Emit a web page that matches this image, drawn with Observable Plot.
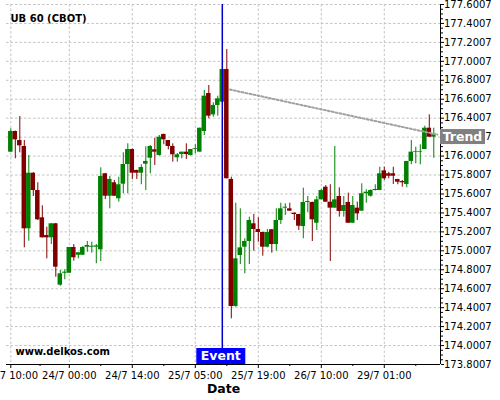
<!DOCTYPE html>
<html>
<head>
<meta charset="utf-8">
<script src="https://cdn.jsdelivr.net/npm/d3@7"></script>
<script src="https://cdn.jsdelivr.net/npm/@observablehq/plot@0.6"></script>
<style>
  html, body { margin: 0; padding: 0; background: white; }
</style>
</head>
<body>
<div id="chart"></div>
<script>
const title = "UB 60 (CBOT)";
const watermark = "www.delkos.com";
const xTitle = "Date";

const open = [
176.042, 176.260, 176.165, 176.102, 175.233, 175.820, 175.637, 175.349, 175.162, 175.138,
175.286, 174.638, 174.764, 174.764, 175.036, 174.954, 174.954, 175.039, 175.039, 175.039,
175.011, 175.814, 175.577, 175.719, 175.550, 175.704, 175.912, 176.070, 175.849, 175.820,
175.915, 175.978, 176.067, 176.007, 176.229, 176.165, 176.102, 175.983, 176.017, 176.042,
176.007, 176.070, 176.042, 176.260, 176.661, 176.436, 176.535, 176.570, 176.915, 175.754,
174.413, 174.951, 175.039, 175.099, 175.286, 175.226, 175.194, 175.039, 175.223, 175.067,
175.321, 175.451, 175.444, 175.398, 175.384, 175.257, 175.511, 175.511, 175.292, 175.539,
175.672, 175.514, 175.451, 175.574, 175.416, 175.511, 175.292, 175.451, 175.419, 175.603,
175.577, 175.637, 175.637, 175.845, 175.814, 175.814, 175.754, 175.732, 175.701, 175.944,
176.042, 176.042, 176.070, 176.295, 176.200
];
const high = [
176.289, 176.265, 176.418, 176.165, 176.007, 175.825, 175.719, 175.476, 175.250, 175.286,
175.290, 174.793, 174.800, 175.036, 175.067, 174.980, 175.046, 175.099, 175.092, 175.067,
175.877, 175.818, 175.785, 175.743, 175.778, 176.035, 176.130, 176.075, 175.852, 175.909,
176.099, 176.112, 176.189, 176.218, 176.232, 176.165, 176.130, 176.028, 176.042, 176.130,
176.070, 176.120, 176.295, 176.693, 176.746, 176.563, 176.633, 176.915, 177.126, 175.778,
175.503, 175.444, 175.128, 175.356, 175.384, 175.349, 175.198, 175.226, 175.226, 175.444,
175.503, 175.497, 175.503, 175.400, 175.384, 175.662, 175.574, 175.515, 175.574, 175.651,
175.690, 175.698, 176.102, 175.666, 175.574, 175.609, 175.574, 175.514, 175.708, 175.645,
175.645, 175.698, 175.883, 175.883, 175.830, 175.883, 175.754, 175.743, 175.944, 176.165,
176.094, 176.120, 176.316, 176.436, 176.295
];
const low = [
176.038, 175.972, 176.035, 175.032, 175.102, 175.574, 175.321, 175.136, 174.916, 175.067,
174.722, 174.627, 174.695, 174.764, 174.891, 174.916, 174.954, 174.986, 174.976, 174.864,
174.888, 175.542, 175.444, 175.574, 175.514, 175.603, 175.603, 175.754, 175.754, 175.698,
175.637, 175.814, 175.901, 176.000, 176.120, 176.067, 175.936, 175.936, 175.972, 175.965,
176.000, 176.025, 176.042, 176.218, 176.394, 176.411, 176.422, 176.570, 175.761, 174.283,
174.405, 174.856, 174.758, 174.856, 174.997, 175.092, 174.944, 175.032, 174.976, 174.997,
175.279, 175.374, 175.419, 175.321, 175.215, 175.128, 175.405, 175.099, 175.215, 175.539,
175.514, 174.888, 175.451, 175.356, 175.356, 175.292, 175.292, 175.321, 175.419, 175.503,
175.567, 175.632, 175.637, 175.743, 175.761, 175.701, 175.698, 175.672, 175.666, 175.909,
175.919, 175.909, 176.070, 176.200, 175.978
];
const close = [
176.260, 176.172, 176.109, 175.233, 175.820, 175.637, 175.328, 175.138, 175.138, 175.286,
174.828, 174.758, 174.775, 175.036, 174.927, 174.980, 175.036, 175.057, 175.049, 175.052,
175.785, 175.577, 175.754, 175.577, 175.698, 175.912, 176.070, 175.820, 175.820, 175.880,
175.944, 176.102, 176.042, 176.200, 176.172, 176.102, 176.014, 176.014, 176.042, 176.017,
176.070, 176.078, 176.295, 176.633, 176.422, 176.535, 176.605, 176.915, 175.761, 174.413,
174.916, 175.032, 175.099, 175.321, 175.226, 175.194, 175.039, 175.194, 175.067, 175.321,
175.444, 175.461, 175.419, 175.384, 175.260, 175.511, 175.521, 175.328, 175.539, 175.637,
175.514, 175.451, 175.539, 175.416, 175.479, 175.292, 175.479, 175.391, 175.603, 175.619,
175.637, 175.648, 175.814, 175.761, 175.788, 175.788, 175.725, 175.719, 175.944, 176.042,
176.049, 176.049, 176.295, 176.200, 176.225
];

const xTickIdx = [0, 13, 27, 41, 55, 69, 83];
const xTickLabels = ["23/7 10:00", "24/7 00:00", "24/7 14:00", "25/7 05:00", "25/7 19:00", "26/7 10:00", "29/7 01:00"];
const xMinorIdx = [6.5, 20, 34, 48, 62, 76, 90];
const yTickLabels = ["173.8007","174.0007","174.2007","174.4007","174.6007","174.8007","175.0007","175.2007","175.4007","175.6007","175.8007","176.0007","176.2007","176.4007","176.6007","176.8007","177.0007","177.2007","177.4007","177.6007"];
const yTicks = yTickLabels.map(Number);

const eventIdx = 47;
const eventLabel = "Event";
const trendIdx = [48.7, 94.8];
const trendVal = [176.703, 176.228];
const trendLabel = "Trend";

const xDomain = [-0.956, 95.49];
const yDomain = [173.8007, 177.6007];
const up = "#008000", down = "#800000";

const candles = open.map((o, i) => ({i, open: o, high: high[i], low: low[i], close: close[i],
  color: close[i] >= o ? up : down}));
const trend = trendIdx.map((x, k) => ({x, y: trendVal[k]}));
const yMinor = [];
for (let k = 0; k < yTicks.length - 1; k++) {
  for (let m = 1; m < 4; m++) yMinor.push(yTicks[k] + (yTicks[k+1] - yTicks[k]) * m / 4);
}

const grid = {stroke: "#c4c4c4", strokeOpacity: 1, strokeDasharray: "2.5,2"};

const chart = Plot.plot({
  width: 500, height: 400,
  marginLeft: 6, marginRight: 60, marginTop: 4, marginBottom: 36,
  style: {fontFamily: "DejaVu Sans", fontSize: "10px", background: "white", color: "black"},
  x: {domain: xDomain, axis: null},
  y: {domain: yDomain, axis: null},
  color: {type: "identity"},
  marks: [
    Plot.gridY(yTicks, grid),
    Plot.gridX(xTickIdx, grid),
    Plot.ruleX(candles, {x: "i", y1: "low", y2: "high", stroke: "color", strokeWidth: 1}),
    Plot.rect(candles, {x1: d => d.i - 0.5, x2: d => d.i + 0.5, y1: "open", y2: "close", fill: "color"}),
    Plot.line(trend, {x: "x", y: "y", stroke: "#a0a0a0", strokeWidth: 2, strokeDasharray: "2,2"}),
    Plot.ruleX([eventIdx], {stroke: "#0000cd", strokeWidth: 1.5}),
    Plot.ruleY([yDomain[0]], {stroke: "black", strokeWidth: 1}),
    Plot.ruleX([xDomain[1]], {stroke: "black", strokeWidth: 1}),
    Plot.axisY(yTicks, {anchor: "right", tickSize: 3, tickPadding: 0.5, tickFormat: d => yTickLabels[yTicks.indexOf(d)], fontSize: 10}),
    Plot.axisY(yMinor, {anchor: "right", tickSize: 2, tickFormat: () => ""}),
    Plot.axisX(xTickIdx, {anchor: "bottom", tickSize: 4, tickPadding: 3, tickFormat: d => xTickLabels[xTickIdx.indexOf(d)], fontSize: 10}),
    Plot.axisX(xMinorIdx, {anchor: "bottom", tickSize: 2, tickFormat: () => ""}),
    Plot.text([title], {frameAnchor: "top-left", dx: 4, dy: 10, textAnchor: "start", fontWeight: "bold", fontSize: 10}),
    Plot.text([watermark], {frameAnchor: "bottom-left", dx: 9, dy: -10, textAnchor: "start", fontWeight: "bold", fontSize: 10}),
    Plot.text([xTitle], {frameAnchor: "bottom", dy: 28, fontWeight: "bold", fontSize: 12.5})
  ]
});

const sx = chart.scale("x"), sy = chart.scale("y");
const svg = d3.select(chart);
const ex = sx.apply(eventIdx);
const yb = sy.apply(yDomain[0]);
const eg = svg.append("g");
eg.append("rect").attr("x", ex - 25.5).attr("y", yb - 16).attr("width", 49).attr("height", 16).attr("fill", "#0000ff");
eg.append("text").attr("x", ex - 1).attr("y", yb - 8).attr("dy", "0.35em").attr("text-anchor", "middle")
  .attr("fill", "white").attr("font-weight", "bold").attr("font-size", 12.5).text(eventLabel);

const rx = sx.apply(xDomain[1]);
const ty = sy.apply(trendVal[1]);
const tg = svg.append("g");
tg.append("rect").attr("x", rx).attr("y", ty - 5).attr("width", 45).attr("height", 15).attr("fill", "#808080");
tg.append("text").attr("x", rx + 22.5).attr("y", ty + 2.5).attr("dy", "0.35em").attr("text-anchor", "middle")
  .attr("fill", "white").attr("font-weight", "bold").attr("font-size", 12.5).text(trendLabel);

document.getElementById("chart").appendChild(chart);
</script>
</body>
</html>
